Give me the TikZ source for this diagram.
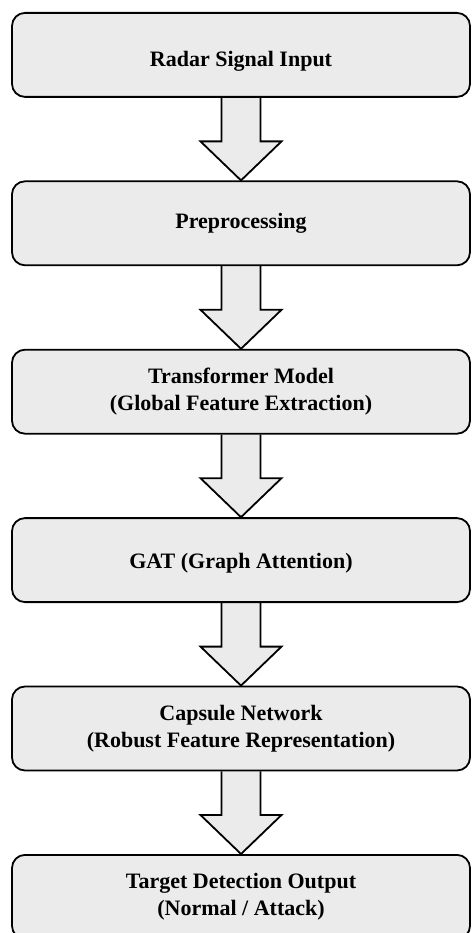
\documentclass[tikz,border=0pt]{standalone}
\usepackage{fontspec}
\setmainfont{Liberation Serif}
\usetikzlibrary{calc,backgrounds}
\definecolor{boxfill}{RGB}{235,235,235}
\tikzset{
  stagebox/.style={draw=black, line width=1.8pt, fill=boxfill, rounded corners=13pt,
    minimum width=458pt, minimum height=84pt, anchor=north, inner sep=0pt},
  stagetext/.style={align=center, inner sep=0pt, font=\fontsize{22pt}{26.5pt}\selectfont\bfseries},
  blockarrow/.style={draw=black, line width=1.8pt, fill=boxfill, line join=miter}
}
\newcommand{\flowarrow}[2]{%
  \draw[blockarrow] ($(#1.south)+(-19.5pt,0)$) -- ($(#2.north)+(-19.5pt,39pt)$)
    -- ($(#2.north)+(-40.5pt,39pt)$) -- (#2.north) -- ($(#2.north)+(40.5pt,39pt)$)
    -- ($(#2.north)+(19.5pt,39pt)$) -- ($(#1.south)+(19.5pt,0)$);}
\begin{document}
\begin{tikzpicture}
\useasboundingbox (0,0) rectangle (471pt,-933pt);
\node[stagebox] (b1) at (241pt,-12pt) {};
\node[stagetext] (t1) at ($(b1.center)+(0,-6pt)$) {Radar Signal Input};
\node[stagebox, stagetext] (b2) at (241pt,-180.4pt) {Preprocessing};
\node[stagebox, stagetext] (b3) at (241pt,-348.8pt) {Transformer Model\\(Global Feature Extraction)};
\node[stagebox] (b4) at (241pt,-517.2pt) {};
\node[stagetext] (t4) at ($(b4.center)+(0,-3pt)$) {GAT (Graph Attention)};
\node[stagebox, stagetext] (b5) at (241pt,-685.6pt) {Capsule Network\\(Robust Feature Representation)};
\node[stagebox, stagetext] (b6) at (241pt,-854pt) {Target Detection Output\\(Normal / Attack)};
\begin{pgfonlayer}{background}
\flowarrow{b1}{b2}
\flowarrow{b2}{b3}
\flowarrow{b3}{b4}
\flowarrow{b4}{b5}
\flowarrow{b5}{b6}
\end{pgfonlayer}
\end{tikzpicture}
\end{document}
